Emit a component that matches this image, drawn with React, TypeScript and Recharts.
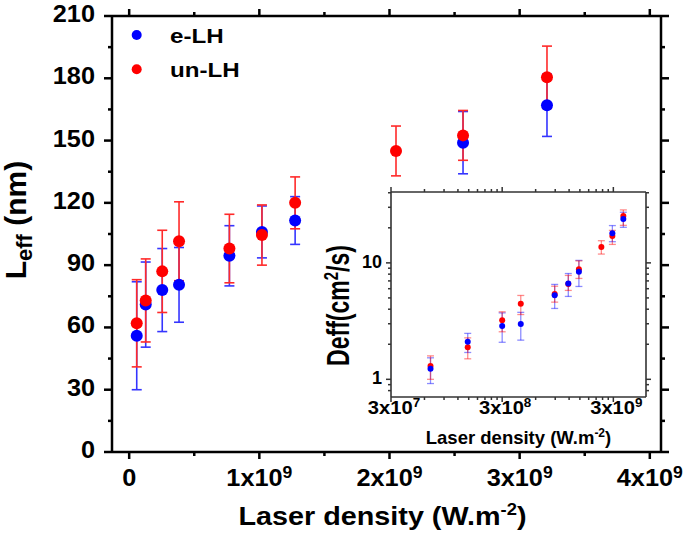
import React from 'react';
import { ScatterChart, Scatter, XAxis, YAxis, ErrorBar } from 'recharts';

const FONT = '"Liberation Sans", Arial, Helvetica, sans-serif';

// ---------- main chart data ----------
const mainDensity = [0.058e9, 0.127e9, 0.254e9, 0.383e9, 0.77e9, 1.02e9, 1.275e9, 2.05e9, 2.565e9, 3.21e9];
const mainELH = [56, 71, 78, 80.5, 94.5, 106, 111.5, null, 149, 167];
const mainELHErr = [26, 20.5, 20, 18, 14.5, 12.5, 11.5, null, 15, 15];
const mainUnLH = [62, 73, 87, 101.5, 98, 104.5, 120, 145, 152.5, 180.5];
const mainUnLHErr = [21, 20, 19.8, 19, 16.5, 14.5, 12.5, 12, 12, 15];

const mainXTicks = [0, 0.5e9, 1e9, 1.5e9, 2e9, 2.5e9, 3e9, 3.5e9, 4e9];
const mainXMajor = [0, 1e9, 2e9, 3e9, 4e9];
const mainXLabels = ['0', '1x10', '2x10', '3x10', '4x10'];
const mainXExp = ['', '9', '9', '9', '9'];
const mainYTicks = [0, 15, 30, 45, 60, 75, 90, 105, 120, 135, 150, 165, 180, 195, 210];
const mainYMajor = [0, 30, 60, 90, 120, 150, 180, 210];

// ---------- inset data ----------
const insetDensity = [6.8e7, 1.47e8, 3.0e8, 4.41e8, 8.9e8, 1.18e9, 1.47e9, 2.34e9, 2.94e9, 3.69e9];
const insetELH = [1.23, 2.1, 2.87, 2.98, 5.28, 6.66, 8.37, null, 18.0, 23.8];
const insetELHLow = [0.31, 0.4, 0.79, 0.81, 1.22, 1.51, 2.1, null, 2.8, 3.6];
const insetELHHigh = [0.3, 0.38, 0.85, 0.78, 1.25, 1.44, 2.13, null, 2.9, 3.4];
const insetUnLH = [1.3, 1.89, 3.22, 4.45, 5.4, 6.6, 8.83, 13.7, 17.0, 25.2];
const insetUnLHLow = [0.3, 0.39, 0.66, 0.85, 0.8, 0.8, 1.48, 1.8, 2.6, 4.2];
const insetUnLHHigh = [0.29, 0.38, 0.58, 0.8, 0.9, 1.2, 1.57, 1.8, 2.0, 3.3];

const insetXTicks = [3e7, 6e7, 9e7, 1.2e8, 1.5e8, 1.8e8, 2.1e8, 2.4e8, 2.7e8, 3e8, 6e8, 9e8, 1.2e9, 1.5e9, 1.8e9, 2.1e9, 2.4e9, 2.7e9, 3e9];
const insetXMajor = [3e7, 3e8, 3e9];
const insetXExp = ['7', '8', '9'];
const insetYTicks = [0.8, 0.9, 1, 2, 3, 4, 5, 6, 7, 8, 9, 10, 20, 30, 40];
const insetYMajor = [1, 10];
const insetYLabels = ['1', '10'];

const seriesNames = ['e-LH', 'un-LH'];
const BLUE = '#0000ff';
const RED = '#ff0000';

// ---------- build tables ----------
const mainE = mainDensity
  .map((x, i) => ({ x, y: mainELH[i], err: mainELHErr[i] }))
  .filter((d) => d.y !== null);
const mainU = mainDensity.map((x, i) => ({ x, y: mainUnLH[i], err: mainUnLHErr[i] }));
const insetE = insetDensity
  .map((x, i) => ({ x, y: insetELH[i], err: [insetELHLow[i], insetELHHigh[i]] }))
  .filter((d) => d.y !== null);
const insetU = insetDensity.map((x, i) => ({ x, y: insetUnLH[i], err: [insetUnLHLow[i], insetUnLHHigh[i]] }));

const MAIN_X_DOMAIN: [number, number] = [-0.132e9, 4.086e9];
const MAIN_Y_DOMAIN: [number, number] = [0, 210];
const INSET_X_DOMAIN: [number, number] = [3e7, 5.9e9];
const INSET_Y_DOMAIN: [number, number] = [0.705, 40.6];

function Txt(props: any) {
  const { x, y, sx = 1, anchor = 'middle', size, rotate = false, children } = props;
  const t = rotate
    ? `translate(${x} ${y}) scale(${sx} 1) rotate(-90)`
    : `translate(${x} ${y}) scale(${sx} 1)`;
  return (
    <text transform={t} x={0} y={0} textAnchor={anchor} fontFamily={FONT} fontWeight="bold" fontSize={size} fill="#000">
      {children}
    </text>
  );
}

const Empty = () => <g />;

// ---------- main ticks ----------
const MainXTick = (p: any) => {
  const { x, y, payload } = p;
  const i = mainXMajor.indexOf(payload.value);
  if (i < 0) return <line x1={x} x2={x} y1={y} y2={y + 4} stroke="#000" strokeWidth={2.5} />;
  return (
    <g>
      <line x1={x} x2={x} y1={y} y2={y + 7} stroke="#000" strokeWidth={2.5} />
      <Txt x={x} y={y + 34} sx={1.1} size={23}>
        {mainXLabels[i]}
        {mainXExp[i] ? <tspan dy={-8} fontSize={16}>{mainXExp[i]}</tspan> : null}
      </Txt>
    </g>
  );
};
const MainXTopTick = (p: any) => {
  const { x, y, payload } = p;
  const major = mainXMajor.indexOf(payload.value) >= 0;
  return <line x1={x} x2={x} y1={y} y2={y - (major ? 7 : 4)} stroke="#000" strokeWidth={2.5} />;
};
const MainYTick = (p: any) => {
  const { x, y, payload } = p;
  const major = mainYMajor.indexOf(payload.value) >= 0;
  if (!major) return <line x1={x} x2={x - 4} y1={y} y2={y} stroke="#000" strokeWidth={2.5} />;
  return (
    <g>
      <line x1={x} x2={x - 8} y1={y} y2={y} stroke="#000" strokeWidth={2.5} />
      <Txt x={x - 17} y={y + 6} sx={1.1} size={23} anchor="end">
        {String(payload.value)}
      </Txt>
    </g>
  );
};
const MainYRightTick = (p: any) => {
  const { x, y, payload } = p;
  const major = mainYMajor.indexOf(payload.value) >= 0;
  return <line x1={x} x2={x + (major ? 8 : 4)} y1={y} y2={y} stroke="#000" strokeWidth={2.5} />;
};

// ---------- inset ticks ----------
const IC = '#333';
const InsetXTick = (p: any) => {
  const { x, y, payload } = p;
  const i = insetXMajor.indexOf(payload.value);
  if (i < 0) return <line x1={x} x2={x} y1={y} y2={y + 3} stroke={IC} strokeWidth={1.5} />;
  return (
    <g>
      <line x1={x} x2={x} y1={y} y2={y + 5} stroke={IC} strokeWidth={1.5} />
      <Txt x={x + 3} y={y + 17} sx={1.12} size={18}>
        3x10<tspan dy={-7} fontSize={12}>{insetXExp[i]}</tspan>
      </Txt>
    </g>
  );
};
const InsetXTopTick = (p: any) => {
  const { x, y, payload } = p;
  const major = insetXMajor.indexOf(payload.value) >= 0;
  return <line x1={x} x2={x} y1={y} y2={y - (major ? 5 : 3)} stroke={IC} strokeWidth={1.5} />;
};
const InsetYTick = (p: any) => {
  const { x, y, payload } = p;
  const i = insetYMajor.indexOf(payload.value);
  if (i < 0) return <line x1={x} x2={x - 3} y1={y} y2={y} stroke={IC} strokeWidth={1.5} />;
  return (
    <g>
      <line x1={x} x2={x - 5} y1={y} y2={y} stroke={IC} strokeWidth={1.5} />
      <Txt x={x - 9} y={y + 5} size={18} anchor="end">
        {insetYLabels[i]}
      </Txt>
    </g>
  );
};
const InsetYRightTick = (p: any) => {
  const { x, y, payload } = p;
  const major = insetYMajor.indexOf(payload.value) >= 0;
  return <line x1={x} x2={x + (major ? 5 : 3)} y1={y} y2={y} stroke={IC} strokeWidth={1.5} />;
};

const dot = (r: number, fill: string) => (p: any) => <circle cx={p.cx} cy={p.cy} r={r} fill={fill} />;

function MainChart() {
  const axisLine = { stroke: '#000', strokeWidth: 2.5 };
  return (
    <ScatterChart width={685} height={552} margin={{ top: 0, right: 0, bottom: 0, left: 0 }}>
      <XAxis
        xAxisId="b" orientation="bottom" type="number" dataKey="x" domain={MAIN_X_DOMAIN} allowDataOverflow
        ticks={mainXTicks} interval={0} tick={MainXTick} tickLine={false} tickSize={0} tickMargin={0}
        axisLine={axisLine} height={100}
        label={{
          content: (lp: any) => {
            const vb = lp.viewBox;
            return (
              <Txt x={vb.x + vb.width / 2 - 4} y={vb.y + 73} sx={1.15} size={25}>
                Laser density (W.m<tspan dy={-10} fontSize={16}>-2</tspan><tspan dy={10} fontSize={25}>)</tspan>
              </Txt>
            );
          },
        }}
      />
      <XAxis
        xAxisId="t" orientation="top" type="number" dataKey="x" domain={MAIN_X_DOMAIN} allowDataOverflow
        ticks={mainXTicks} interval={0} tick={MainXTopTick} tickLine={false} tickSize={0} tickMargin={0}
        axisLine={axisLine} height={16}
      />
      <YAxis
        yAxisId="l" orientation="left" type="number" dataKey="y" domain={MAIN_Y_DOMAIN} allowDataOverflow
        ticks={mainYTicks} interval={0} tick={MainYTick} tickLine={false} tickSize={0} tickMargin={0}
        axisLine={axisLine} width={112}
        label={{
          content: (lp: any) => {
            const vb = lp.viewBox;
            return (
              <Txt x={26} y={vb.y + vb.height / 2 - 14} size={30} rotate>
                L<tspan dy={6} fontSize={22}>eff</tspan>
                <tspan dy={-6} fontSize={30}> (nm)</tspan>
              </Txt>
            );
          },
        }}
      />
      <YAxis
        yAxisId="r" orientation="right" type="number" dataKey="y" domain={MAIN_Y_DOMAIN} allowDataOverflow
        ticks={mainYTicks} interval={0} tick={MainYRightTick} tickLine={false} tickSize={0} tickMargin={0}
        axisLine={axisLine} width={24}
      />
      <Scatter name="e-LH err" data={mainE} xAxisId="t" yAxisId="r" shape={Empty} isAnimationActive={false}>
        <ErrorBar dataKey="err" direction="y" width={5} stroke="#3535ff" strokeWidth={1.6} isAnimationActive={false} />
      </Scatter>
      <Scatter name="un-LH err" data={mainU} xAxisId="t" yAxisId="r" shape={Empty} isAnimationActive={false}>
        <ErrorBar dataKey="err" direction="y" width={5} stroke="#ff2a2a" strokeWidth={1.6} isAnimationActive={false} />
      </Scatter>
      <Scatter name={seriesNames[0]} data={mainE} xAxisId="b" yAxisId="l" shape={dot(6, BLUE)} isAnimationActive={false} />
      <Scatter name={seriesNames[1]} data={mainU} xAxisId="b" yAxisId="l" shape={dot(6, RED)} isAnimationActive={false} />
    </ScatterChart>
  );
}

function InsetChart() {
  const axisLine = { stroke: IC, strokeWidth: 1.6 };
  return (
    <ScatterChart width={360} height={290} margin={{ top: 0, right: 0, bottom: 0, left: 0 }}>
      <XAxis
        xAxisId="b" orientation="bottom" type="number" scale="log" dataKey="x" domain={INSET_X_DOMAIN} allowDataOverflow
        ticks={insetXTicks} interval={0} tick={InsetXTick} tickLine={false} tickSize={0} tickMargin={0}
        axisLine={axisLine} height={63}
        label={{
          content: (lp: any) => {
            const vb = lp.viewBox;
            return (
              <Txt x={vb.x + vb.width / 2} y={vb.y + 47} size={18.5}>
                Laser density (W.m<tspan dy={-7} fontSize={12}>-2</tspan><tspan dy={7} fontSize={18.5}>)</tspan>
              </Txt>
            );
          },
        }}
      />
      <XAxis
        xAxisId="t" orientation="top" type="number" scale="log" dataKey="x" domain={INSET_X_DOMAIN} allowDataOverflow
        ticks={insetXTicks} interval={0} tick={InsetXTopTick} tickLine={false} tickSize={0} tickMargin={0}
        axisLine={axisLine} height={22}
      />
      <YAxis
        yAxisId="l" orientation="left" type="number" scale="log" dataKey="y" domain={INSET_Y_DOMAIN} allowDataOverflow
        ticks={insetYTicks} interval={0} tick={InsetYTick} tickLine={false} tickSize={0} tickMargin={0}
        axisLine={axisLine} width={91}
        label={{
          content: (lp: any) => {
            const vb = lp.viewBox;
            return (
              <Txt x={49} y={vb.y + vb.height / 2 + 11} sx={1.35} size={23} rotate>
                Deff(cm<tspan dy={-8} fontSize={15}>2</tspan><tspan dy={8} fontSize={23}>/s)</tspan>
              </Txt>
            );
          },
        }}
      />
      <YAxis
        yAxisId="r" orientation="right" type="number" scale="log" dataKey="y" domain={INSET_Y_DOMAIN} allowDataOverflow
        ticks={insetYTicks} interval={0} tick={InsetYRightTick} tickLine={false} tickSize={0} tickMargin={0}
        axisLine={axisLine} width={14}
      />
      <Scatter name="e-LH err" data={insetE} xAxisId="t" yAxisId="r" shape={Empty} isAnimationActive={false}>
        <ErrorBar dataKey="err" direction="y" width={3.5} stroke={BLUE} strokeOpacity={0.45} strokeWidth={1.3} isAnimationActive={false} />
      </Scatter>
      <Scatter name="un-LH err" data={insetU} xAxisId="t" yAxisId="r" shape={Empty} isAnimationActive={false}>
        <ErrorBar dataKey="err" direction="y" width={3.5} stroke={RED} strokeOpacity={0.45} strokeWidth={1.3} isAnimationActive={false} />
      </Scatter>
      <Scatter name={seriesNames[1]} data={insetU} xAxisId="b" yAxisId="l" shape={dot(3, RED)} isAnimationActive={false} />
      <Scatter name={seriesNames[0]} data={insetE} xAxisId="b" yAxisId="l" shape={dot(3, BLUE)} isAnimationActive={false} />
    </ScatterChart>
  );
}

function LegendBox() {
  const colors = [BLUE, RED];
  const ys = [35, 69.3];
  return (
    <svg width={160} height={90} style={{ position: 'absolute', left: 110, top: 0 }}>
      {seriesNames.map((n, i) => (
        <g key={n}>
          <circle cx={26.7} cy={ys[i]} r={5} fill={colors[i]} />
          <Txt x={60} y={ys[i] + 8} sx={1.15} size={21} anchor="start">
            {n}
          </Txt>
        </g>
      ))}
    </svg>
  );
}

export default function App() {
  return (
    <div style={{ position: 'fixed', left: 0, top: 0, width: 685, height: 552, background: '#fff' }}>
      <div style={{ position: 'absolute', left: 0, top: 0 }}>
        <MainChart />
      </div>
      <div style={{ position: 'absolute', left: 300, top: 170 }}>
        <InsetChart />
      </div>
      <LegendBox />
    </div>
  );
}
